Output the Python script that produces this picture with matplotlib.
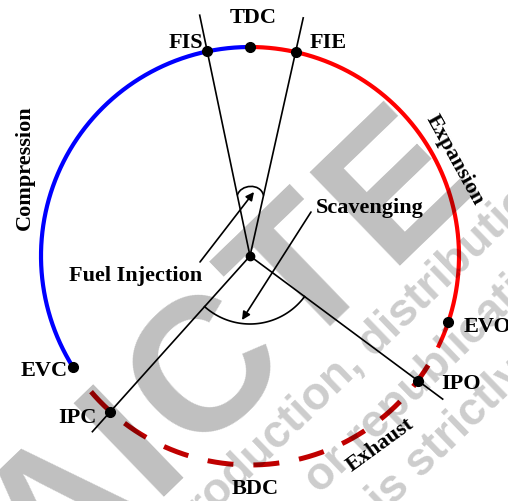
import numpy as np
import matplotlib.pyplot as plt
from matplotlib.path import Path
from matplotlib.patches import PathPatch

# crank angles in degrees, measured clockwise from TDC
event_names = ["TDC", "FIS", "FIE", "EVO", "IPO", "IPC", "EVC"]
event_deg = [0.0, -11.8, 12.6, 108.3, 126.6, 221.9, 238.0]
compression_span = (-122.0, 0.0)   # EVC -> TDC
expansion_span = (0.0, 116.0)
exhaust_span = (121.5, 231.3)
scavenge_span = (126.6, 221.9)     # IPO -> IPC
injection_span = (-11.8, 12.6)     # FIS -> FIE

label_text = ["TDC", "FIS", "FIE", "EVO", "IPO", "BDC", "IPC", "EVC"]
label_xy = [(253, 18), (186, 43), (328, 43), (488, 327), (461, 384),
            (255, 489), (77, 418), (44, 371)]

# watermark pieces
wm_letters = ["A", "I", "C", "T", "E"]
wm_letter_xy = [(51, 502), (123, 431), (195, 360), (292, 266), (386, 174)]
wm_lines = ['reproduction, distribution', 'or republication',
            'is strictly prohibited']
wm_line_xy = [(152, 573), (320, 495), (384, 515)]

cx, cy, R = 250, 257, 209


def pt(theta, r):
    a = np.radians(90 - np.asarray(theta))
    return cx + r * np.cos(a), cy - r * np.sin(a)


fig = plt.figure(figsize=(5.08, 5.02), dpi=100)
ax = fig.add_axes([0, 0, 1, 1])
ax.set_xlim(0, 508)
ax.set_ylim(502, 0)
ax.axis('off')

font = dict(family='Liberation Serif', weight='bold', size=16)

# arcs
th = np.linspace(*compression_span, 200)
ax.plot(*pt(th, R), color='#0000ff', lw=3.0, solid_capstyle='butt')
th = np.linspace(*expansion_span, 200)
ax.plot(*pt(th, R), color='#ff0000', lw=3.0, solid_capstyle='butt')
th = np.linspace(*exhaust_span, 300)
ax.plot(*pt(th, R), color='#c00000', lw=3.6, ls=(0, (5.2, 4.0)),
        dash_capstyle='butt')

# radial lines
for d, r in zip([-11.8, 12.6, 126.6, 221.9], [246, 244, 240, 236]):
    x, y = pt([d, d], [0, r])
    ax.plot(x, y, color='k', lw=1.2)

# inner arcs
th = np.linspace(*scavenge_span, 100)
ax.plot(*pt(th, 68), color='k', lw=1.2)
p0 = pt(injection_span[0], 62)
p3 = pt(injection_span[1], 62)
verts = [p0, (p0[0] + 3, p0[1] - 11), (p3[0] - 3, p3[1] - 13), p3]
ax.add_patch(PathPatch(Path(verts, [Path.MOVETO] + [Path.CURVE4] * 3),
                       fill=False, lw=1.2, color='k'))

arrow = dict(arrowstyle='-|>', lw=1.2, color='k', mutation_scale=12,
             shrinkA=0, shrinkB=0)
ax.annotate('', xy=(254, 193), xytext=(200, 263), arrowprops=arrow)
ax.annotate('', xy=(242, 321), xytext=(311, 213), arrowprops=arrow)

# event dots
ex, ey = pt(event_deg, R)
ax.plot(ex, ey, 'o', color='k', ms=7)
ax.plot(cx, cy, 'o', color='k', ms=6)

for t, (x, y) in zip(label_text, label_xy):
    ax.text(x, y, t, ha='center', va='center', **font)

ax.text(25, 168, 'Compression', rotation=90, ha='center', va='center', **font)
ax.text(455, 160, 'Expansion', rotation=-61, ha='center', va='center', **font)
ax.text(380, 445, 'Exhaust', rotation=36, ha='center', va='center', **font)
ax.text(370, 208, 'Scavenging', ha='center', va='center', **font)
ax.text(136, 276, 'Fuel Injection', ha='center', va='center', **font)

# watermark, drawn over the diagram
wm = dict(color='k', rotation=44, rotation_mode='anchor', va='baseline',
          zorder=10, family='Liberation Sans', weight='bold')
for s, (x, y) in zip(wm_letters, wm_letter_xy):
    ax.text(x + 47, y + 48, s, ha='center', size=137, alpha=0.25, **wm)
for s, (x, y) in zip(wm_lines, wm_line_xy):
    ax.text(x, y, s, ha='left', size=33, alpha=0.2, **wm)

fig.savefig('out.png', dpi=100)
